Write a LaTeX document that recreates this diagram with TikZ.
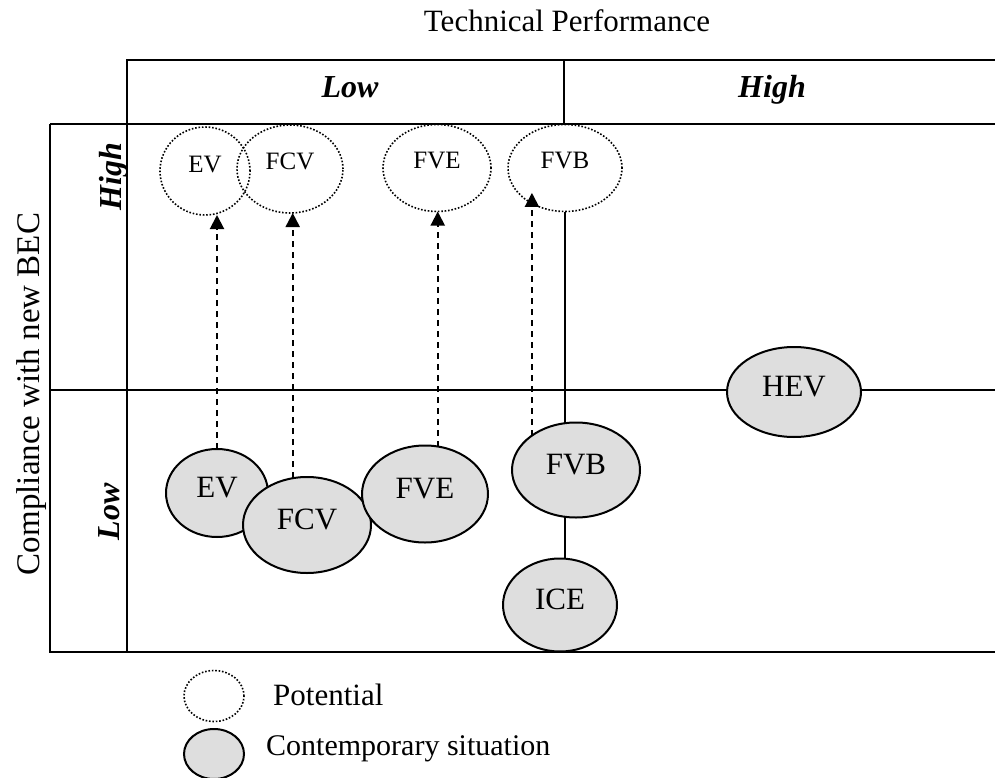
\documentclass[tikz,border=0pt]{standalone}
\usepackage{fontspec}
\setmainfont{Liberation Serif}
\usetikzlibrary{arrows.meta,shapes.geometric,backgrounds}
\definecolor{cellgrey}{gray}{0.87}

\begin{document}
\begin{tikzpicture}[x=1pt,y=-1pt,
  frame/.style={line width=2.3pt},
  grid line/.style={line width=1.4pt},
  potential/.style={ellipse,draw,line width=1.6pt,dash pattern=on 1.6pt off 1.8pt,
    inner sep=0pt,outer sep=0pt,text height=16pt,text depth=14pt,font=\fontsize{25}{28}\selectfont},
  current/.style={ellipse,draw,line width=2pt,fill=cellgrey,
    inner sep=0pt,outer sep=0pt,text height=20pt,text depth=12pt,font=\fontsize{31}{34}\selectfont},
  upgrade/.style={line width=2pt,dash pattern=on 6pt off 5pt,-{Triangle[length=14pt,width=14pt]}},
  header/.style={font=\fontsize{32}{35}\selectfont\bfseries\itshape,anchor=base,inner sep=0pt},
  caption/.style={anchor=base,inner sep=0pt}]
  \useasboundingbox (0,0) rectangle (995,778);

  % table frame
  \draw[frame] (127,652) -- (127,60) -- (995,60);
  \draw[frame] (50,124) -- (995,124);
  \draw[frame] (50,124) -- (50,652) -- (995,652);
  \draw[grid line] (564,60) -- (564,124);

  \node[caption,font=\fontsize{31}{34}\selectfont] (techperf) at (567,32) {Technical Performance};
  \node[caption,font=\fontsize{33}{36}\selectfont,rotate=90] (compliance) at (39,394) {Compliance with new BEC};
  \node[header] (tpLow) at (350,98) {Low};
  \node[header] (tpHigh) at (772,98) {High};
  \node[header,rotate=90] (becHigh) at (121,177) {High};
  \node[header,rotate=90] (becLow) at (119,512) {Low};

  % potential
  \node[potential,minimum width=90pt,minimum height=88pt] (dEV) at (205,171) {EV};
  \node[potential,minimum width=106pt,minimum height=88pt] (dFCV) at (290,169) {FCV};
  \node[potential,minimum width=108pt,minimum height=87pt] (dFVE) at (437,168) {FVE};
  \node[potential,minimum width=114pt,minimum height=87pt] (dFVB) at (565,168) {FVB};

  % contemporary situation
  \node[current,minimum width=102pt,minimum height=88pt] (gEV) at (217,493) {EV};
  \node[current,minimum width=128pt,minimum height=96pt] (gFCV) at (307,525) {FCV};
  \node[current,minimum width=126pt,minimum height=97pt] (gFVE) at (425,494) {FVE};
  \node[current,minimum width=128pt,minimum height=95pt] (gFVB) at (576,470) {FVB};
  \node[current,minimum width=114pt,minimum height=93pt] (gICE) at (560,605) {ICE};
  \node[current,minimum width=134pt,minimum height=90pt] (gHEV) at (794,392) {HEV};

  \begin{scope}[on background layer]
    \draw[grid line] (50,390) -- (995,390);
    \draw[grid line] (dFVB.south) -- (dFVB.south |- gICE.center);
  \end{scope}

  \draw[upgrade] (gEV.north) -- (gEV.north |- dEV.south);
  \draw[upgrade] (gFCV.107) -- (gFCV.107 |- dFCV.south);
  \draw[upgrade] (gFVE.75) -- (gFVE.75 |- dFVE.south);
  \draw[upgrade] (gFVB.142) -- (gFVB.142 |- dFVB.208);

  % legend
  \node[potential,minimum width=60pt,minimum height=51pt] (keyPot) at (214,696) {};
  \node[current,minimum width=60pt,minimum height=50pt] (keyCur) at (214,754) {};
  \node[caption,anchor=base west,font=\fontsize{31}{34}\selectfont] (keyPotText) at (273,705) {Potential};
  \node[caption,anchor=base west,font=\fontsize{30}{34}\selectfont] (keyCurText) at (266,755) {Contemporary situation};
\end{tikzpicture}
\end{document}
